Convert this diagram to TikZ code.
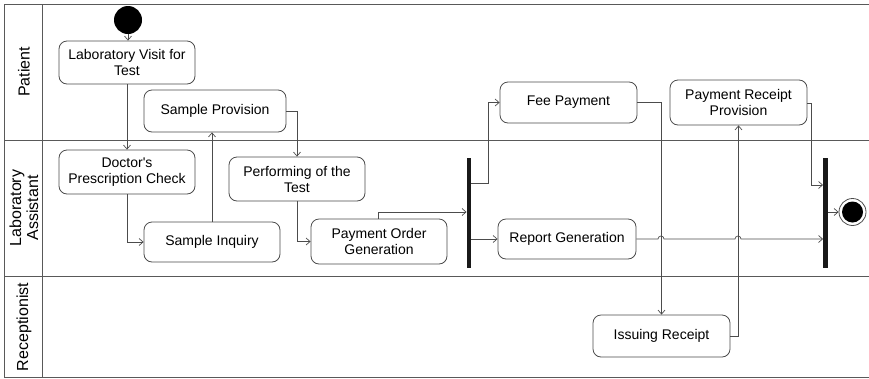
\documentclass[tikz,border=0pt]{standalone}
\usepackage{fontspec}
\setmainfont{Liberation Sans}[Ligatures=TeXOff]
\usetikzlibrary{arrows.meta}
\begin{document}
\begin{tikzpicture}[x=1pt,y=-1pt,
  act/.style={draw=black!70,line width=0.8pt,rounded corners=8pt,align=center,
    font=\fontsize{14}{16}\selectfont,inner sep=0pt,minimum width=136pt,minimum height=42pt,fill=white},
  lanelbl/.style={rotate=90,align=center,font=\fontsize{16}{17}\selectfont},
  flow/.style={draw=black!70,line width=0.7pt,-{Straight Barb[length=4pt,width=7pt]}},
  bar/.style={fill=black!90,draw=none,minimum width=4.5pt,minimum height=110pt,inner sep=0pt},
  lane/.style={draw=black!65,line width=1pt}]
\useasboundingbox (0,0) rectangle (869,378);
% lanes
\draw[lane] (869,4) -- (4,4) -- (4,377) -- (869,377);
\draw[lane] (42,4) -- (42,377);
\draw[lane] (4,140) -- (869,140);
\draw[lane] (4,276) -- (869,276);
\node[lanelbl] (lp) at (24,72) {Patient};
\node[lanelbl] (la) at (24,208) {Laboratory\\Assistant};
\node[lanelbl] (lr) at (24,327) {Receptionist};
% nodes
\node[circle,fill=black,minimum size=28pt,inner sep=0pt] (start) at (128,20) {};
\node[act,minimum height=43pt] (visit) at (127,62.5) {Laboratory Visit for\\Test};
\node[act,minimum width=142pt] (prov) at (215,111) {Sample Provision};
\node[act,minimum height=44pt] (doc) at (127,172) {Doctor's\\Prescription Check};
\node[act,minimum height=40pt] (inq) at (212,242) {Sample Inquiry};
\node[act,minimum height=44pt] (perf) at (297,179) {Performing of the\\Test};
\node[act,minimum height=45pt] (pog) at (379,241.5) {Payment Order\\Generation};
\node[bar] (fork) at (469,212.5) {};
\node[act,minimum width=137pt,minimum height=41pt] (fee) at (568.5,102.5) {Fee Payment};
\node[act,minimum width=137pt,minimum height=45pt] (prp) at (738.5,102.5) {Payment Receipt\\Provision};
\node[act,minimum width=138pt,minimum height=40pt] (rep) at (567,239) {Report Generation};
\node[act,minimum width=137pt,minimum height=42pt] (iss) at (661.5,336) {Issuing Receipt};
\node[bar] (join) at (825.5,212.5) {};
\node[circle,draw=black!70,line width=0.8pt,minimum size=27pt,inner sep=0pt] (endo) at (852.5,212) {};
\node[circle,fill=black,minimum size=21pt,inner sep=0pt] (endi) at (852.5,212) {};
% connectors
\draw[flow] (start) -- (visit.north -| start);
\draw[flow] (visit.south) -- (doc.north);
\draw[flow] (doc.south) |- (inq.west);
\draw[flow] (inq.north) -- (prov.south -| inq.north);
\draw[flow] (prov.east) -| (perf.north);
\draw[flow] (perf.south) |- (pog.west);
\draw[flow] (pog.north -| 378,0) |- (fork.west |- 0,212);
\coordinate (fk1) at (fork.east |- 0,183);
\draw[flow] (fk1) -- (488,183) |- (fee.west);
\draw[flow] (fork.east |- rep.west) -- (rep.west);
\draw[flow] (fee.east) -| (iss.north);
\draw[flow] (iss.east) -| (prp.south);
\coordinate (pr1) at (prp.east |- 0,103);
\draw[flow] (pr1) -- (811,103) |- (join.west |- 0,185);
\draw[flow] (rep.east) -- (658,239) arc[start angle=180,end angle=0,radius=3pt] -- (735,239) arc[start angle=180,end angle=0,radius=3pt] -- (join.west |- rep.east);
\draw[flow] (join.east |- endo.west) -- (endo.west);
\end{tikzpicture}
\end{document}
